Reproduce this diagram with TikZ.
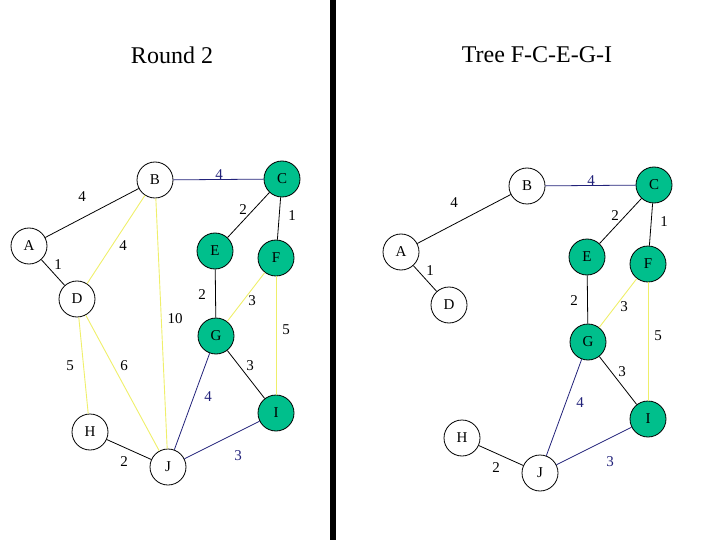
\documentclass[tikz,border=0pt]{standalone}
\usepackage{fontspec}
\setmainfont{Liberation Serif}
\definecolor{nodegreen}{HTML}{00BF8C}
\definecolor{treenavy}{HTML}{22227A}
\definecolor{edgeyellow}{HTML}{EFEF6A}

\begin{document}
\begin{tikzpicture}[x=1pt, y=-1pt,
  vtx/.style={circle, draw=black, fill=white, line width=0.8pt, minimum size=36pt,
    inner sep=0pt, font=\fontsize{15}{15}\selectfont},
  invtx/.style={vtx, fill=nodegreen},
  wt/.style={inner sep=0pt, font=\fontsize{15}{15}\selectfont},
  blk/.style={black, line width=0.8pt},
  nvy/.style={treenavy, line width=0.8pt},
  ylw/.style={edgeyellow, line width=0.9pt}]

  \useasboundingbox (0,0) rectangle (720,540);

  % Divider bar
  \fill[black] (330,0) rectangle (336,540);

  % Titles
  \node[font=\fontsize{24}{24}\selectfont] (roundtitle) at (172,55) {Round 2};
  \node[font=\fontsize{24}{24}\selectfont] (treetitle) at (537,55) {Tree F-C-E-G-I};

  % Vertices: left panel (l) and right panel (r), shifted copy
  \foreach \p/\dx/\dy in {l/0/0, r/372/6} {
    \foreach \n/\x/\y in {A/29/246, B/155/180, D/77/299, H/90/432, J/168/467}
      \node[vtx] (\p\n) at (\x+\dx, \y+\dy) {\n};
    \foreach \n/\x/\y in {C/282/179, E/215/251, F/276/258, G/216/336, I/276/413}
      \node[invtx] (\p\n) at (\x+\dx, \y+\dy) {\n};
  }

  % Edges shown in both panels: from / to / style / label colour / weight / label x / label y
  \foreach \p/\dx/\dy in {l/0/0, r/372/6} {
    \foreach \a/\b/\s/\t/\w/\lx/\ly in {
      A/B/blk/black/4/82/197,
      A/D/blk/black/1/58/265,
      B/C/nvy/treenavy/4/219/175,
      C/E/blk/black/2/243/210,
      C/F/blk/black/1/292/216,
      E/G/blk/black/2/202/295,
      F/G/ylw/black/3/252/301,
      F/I/ylw/black/5/286/330,
      G/J/nvy/treenavy/4/208/397,
      G/I/blk/black/3/250/366,
      H/J/blk/black/2/124/462,
      J/I/nvy/treenavy/3/238/456
    } {
      \draw[\s] (\p\a) -- (\p\b);
      \node[wt, text=\t] (w\p\a\b) at (\lx+\dx, \ly+\dy) {\w};
    }
  }

  % Edges of round 2 only
  \foreach \a/\b/\w/\lx/\ly in {B/D/4/123/246, B/J/10/175/319, D/H/5/70/366, D/J/6/124/366} {
    \draw[ylw] (l\a) -- (l\b);
    \node[wt] (wl\a\b) at (\lx, \ly) {\w};
  }

\end{tikzpicture}
\end{document}
